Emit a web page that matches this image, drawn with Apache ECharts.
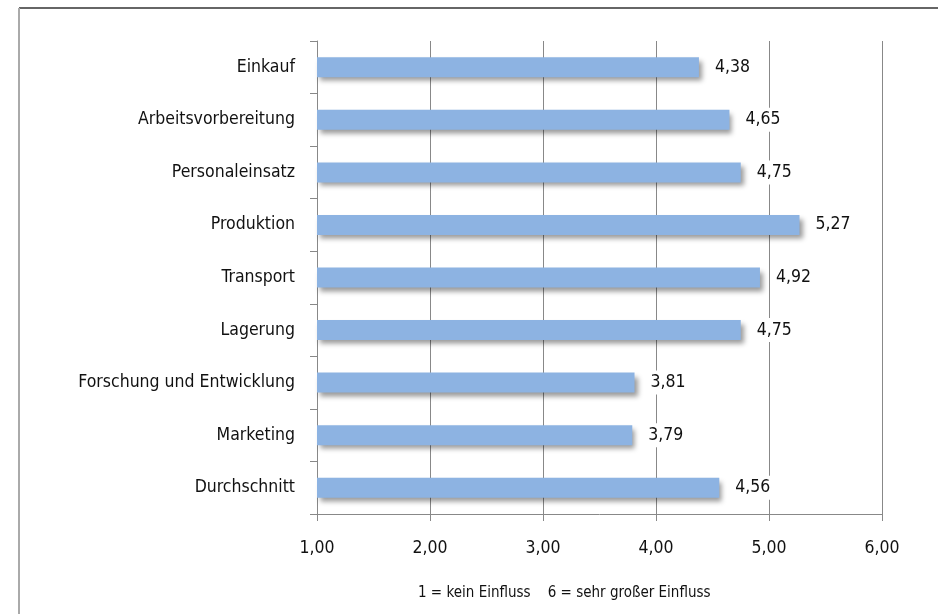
<!DOCTYPE html>
<html>
<head>
<meta charset="utf-8">
<script src="https://cdn.jsdelivr.net/npm/echarts@6/dist/echarts.min.js"></script>
<style>
  html, body { margin: 0; padding: 0; background: #fff; }
  #chart { width: 938px; height: 614px; }
</style>
</head>
<body>
<div id="chart"></div>
<script>
  const categories = ['Einkauf', 'Arbeitsvorbereitung', 'Personaleinsatz', 'Produktion', 'Transport',
    'Lagerung', 'Forschung und Entwicklung', 'Marketing', 'Durchschnitt'];
  const values = [4.38, 4.65, 4.75, 5.27, 4.92, 4.75, 3.81, 3.79, 4.56];
  const scaleNote = '1 = kein Einfluss    6 = sehr großer Einfluss';

  const font = '"DejaVu Sans Condensed", Lato';
  const fmt = v => v.toFixed(2).replace('.', ',');

  let myChart = echarts.init(document.getElementById('chart'));
  myChart.setOption({
    backgroundColor: '#fff',
    animation: false,
    grid: { left: 317, right: 56, top: 41, bottom: 100 },
    xAxis: {
      type: 'value',
      min: 1,
      max: 6,
      interval: 1,
      axisLine: { show: true, lineStyle: { color: '#888' } },
      axisTick: { show: true, length: 7, lineStyle: { color: '#888' } },
      splitLine: { show: true, lineStyle: { color: '#888', width: 1 } },
      axisLabel: {
        margin: 25,
        color: '#111',
        fontFamily: font,
        fontSize: 17.5,
        formatter: fmt
      }
    },
    yAxis: {
      type: 'category',
      inverse: true,
      data: categories,
      axisLine: { show: true, lineStyle: { color: '#888' } },
      axisTick: { show: true, length: 7, lineStyle: { color: '#888' } },
      axisLabel: {
        margin: 22,
        color: '#111',
        fontFamily: font,
        fontSize: 17.5
      }
    },
    series: [{
      type: 'bar',
      data: values,
      barWidth: 20,
      itemStyle: {
        color: '#8db3e2',
        shadowColor: 'rgba(0,0,0,0.4)',
        shadowBlur: 5,
        shadowOffsetX: 3,
        shadowOffsetY: 4
      },
      label: {
        show: true,
        position: 'right',
        distance: 12,
        color: '#111',
        fontFamily: font,
        fontSize: 17.5,
        backgroundColor: '#fff',
        padding: [3, 4],
        formatter: p => fmt(p.value)
      }
    }],
    graphic: [
      // frame: only top and left edges are inside the picture
      {
        type: 'line',
        shape: { x1: 19, y1: 8, x2: 938, y2: 8 },
        style: { stroke: '#666', lineWidth: 2 },
        z: -1
      },
      {
        type: 'line',
        shape: { x1: 19, y1: 8, x2: 19, y2: 614 },
        style: { stroke: '#aaa', lineWidth: 2 },
        z: -1
      },
      {
        type: 'text',
        left: 418, top: 586,
        style: { text: scaleNote, fill: '#111', font: '15px ' + font }
      }
    ]
  });
</script>
</body>
</html>
